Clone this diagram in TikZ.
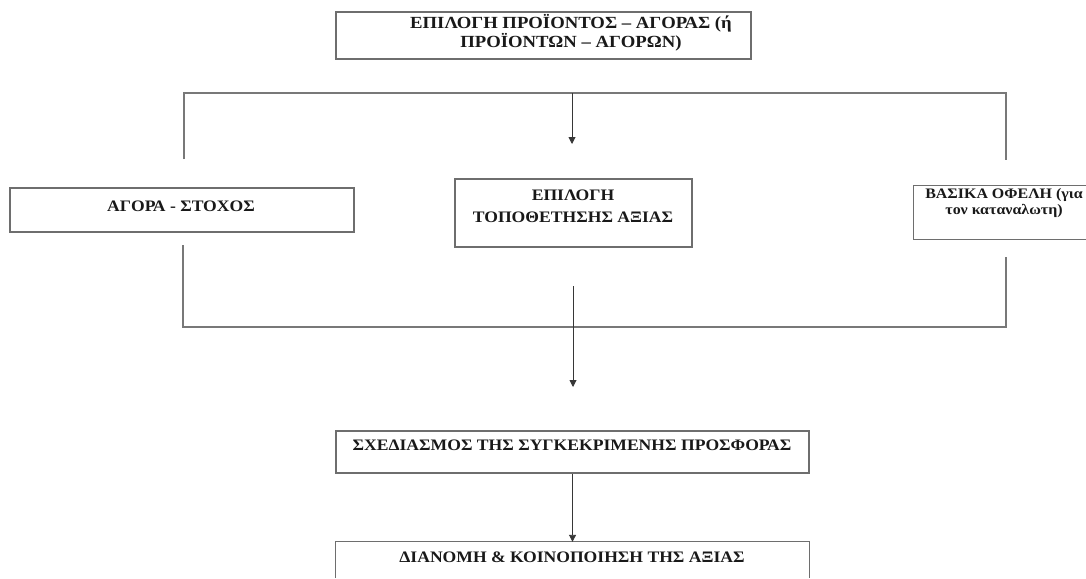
\documentclass[tikz,border=0pt]{standalone}
\usepackage{fontspec}
\setmainfont{Liberation Serif}[FakeStretch=1.1]
\usetikzlibrary{arrows.meta}
\definecolor{boxgray}{RGB}{110,110,110}
\definecolor{linegray}{RGB}{120,120,120}
\definecolor{arrowgray}{RGB}{55,55,55}
\definecolor{txt}{RGB}{25,25,25}
\begin{document}
\begin{tikzpicture}[x=1pt,y=-1pt,
  boxshape/.style={draw=boxgray,line width=1.1pt,rectangle,inner sep=0pt},
  openbox/.style={rectangle,inner sep=0pt},
  boxline/.style={draw=boxgray,line width=1.1pt},
  lbl/.style={text=txt,font=\bfseries\fontsize{16}{17}\selectfont,align=center,inner sep=0pt},
  link/.style={draw=linegray,line width=1.1pt},
  arrowlink/.style={draw=arrowgray,line width=0.9pt,-{Triangle[length=7pt,width=7pt]}}]
\useasboundingbox[fill=white] (0,0) rectangle (1086,578);

% boxes
\node[boxshape,minimum width=415,minimum height=47] (top) at (543.5,35.5) {};
\node[lbl,font=\bfseries\fontsize{17}{17}\selectfont] (toptxt) at (571,33) {ΕΠΙΛΟΓΗ ΠΡΟΪΟΝΤΟΣ – ΑΓΟΡΑΣ (ή\\ΠΡΟΪΟΝΤΩΝ – ΑΓΟΡΩΝ)};

\node[boxshape,minimum width=344,minimum height=44] (left) at (182,210) {};
\node[lbl] (lefttxt) at (181,206) {ΑΓΟΡΑ - ΣΤΟΧΟΣ};

\node[boxshape,minimum width=237,minimum height=68] (mid) at (573.5,213) {};
\node[lbl,font=\bfseries\fontsize{16}{22}\selectfont] (midtxt) at (573,206) {ΕΠΙΛΟΓΗ\\ΤΟΠΟΘΕΤΗΣΗΣ ΑΞΙΑΣ};

\node[openbox,minimum width=172,minimum height=53] (right) at (1000,212.5) {};
\draw[boxline] (right.north east) -- (right.north west) -- (right.south west) -- (right.south east);
\node[lbl,font=\bfseries\fontsize{14.5}{16}\selectfont] (righttxt) at (1004,203.5) {ΒΑΣΙΚΑ ΟΦΕΛΗ (για\\τον καταναλωτη)};

\node[boxshape,minimum width=473,minimum height=42] (plan) at (572.5,452) {};
\node[lbl] (plantxt) at (572,445) {ΣΧΕΔΙΑΣΜΟΣ ΤΗΣ ΣΥΓΚΕΚΡΙΜΕΝΗΣ ΠΡΟΣΦΟΡΑΣ};

\node[openbox,minimum width=473,minimum height=36] (dist) at (572.5,560) {};
\draw[boxline] (dist.south west) -- (dist.north west) -- (dist.north east) -- (dist.south east);
\node[lbl] (disttxt) at (572,557) {ΔΙΑΝΟΜΗ \& ΚΟΙΝΟΠΟΙΗΣΗ ΤΗΣ ΑΞΙΑΣ};

% upper bracket
\coordinate (ul) at (184,159);
\coordinate (ulc) at (184,93);
\coordinate (urc) at (1006,93);
\coordinate (ur) at (1006,160);
\coordinate (um) at (572,93);
\coordinate (umtip) at (572,144);
\draw[link] (ul) -- (ulc) -- (urc) -- (ur);
\draw[arrowlink] (um) -- (umtip);

% lower bracket
\coordinate (ll) at (183,245);
\coordinate (llc) at (183,327);
\coordinate (lrc) at (1006,327);
\coordinate (lr) at (1006,257);
\coordinate (lm) at (573,286);
\coordinate (lmtip) at (573,387);
\draw[link] (ll) -- (llc) -- (lrc) -- (lr);
\draw[arrowlink] (lm) -- (lmtip);

% plan -> distribution
\draw[arrowlink] (plan.south) -- (dist.north);
\end{tikzpicture}
\end{document}
